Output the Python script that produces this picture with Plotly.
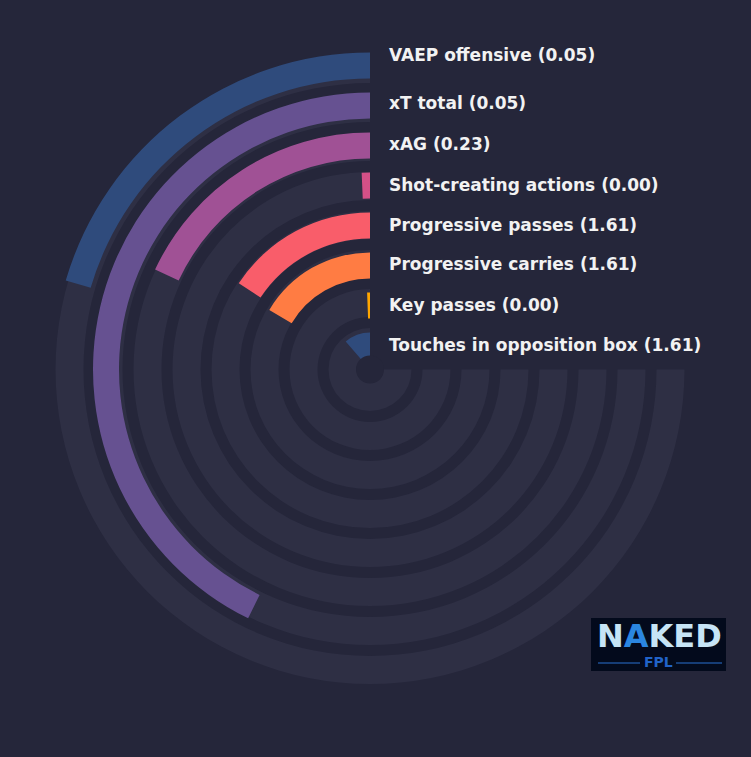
import plotly.graph_objects as go

# ---- data (inner ring to outer ring) ----
metrics = ["Touches in opposition box", "Key passes", "Progressive carries",
           "Progressive passes", "Shot-creating actions", "xAG", "xT total",
           "VAEP offensive"]
values = [1.61, 0.00, 1.61, 1.61, 0.00, 0.23, 0.05, 0.05]
percentiles = [15.2, 0.8, 22.0, 21.0, 0.9, 24.1, 57.0, 27.3]
bar_colors = ["#2f4b7c", "#ffa600", "#ff7c43", "#f95d6a", "#d45087",
              "#a05195", "#665191", "#2f4b7c"]

# ---- style / geometry ----
W, H = 751, 757
CX, CY = 370, 369.5          # centre of rings, pixels from top-left
R = 320                      # radial axis range == pixels
BG = "#25263a"
TRACK = "#2e2f44"
SWEEP = 270.0                # degrees for 100th percentile
FONT = "DejaVu Sans"

n = len(metrics)
idx = list(range(n))
bar_center = [24 + 40 * i for i in idx]
bar_w = 26
track_center = [27.5 + 39 * i for i in idx]
track_w = 28

angles = [p / 100.0 * SWEEP for p in percentiles]

fig = go.Figure()

# background tracks
fig.add_trace(go.Barpolar(
    theta=[SWEEP / 2] * n, width=[SWEEP] * n,
    base=[c - track_w / 2 for c in track_center], r=[track_w] * n,
    marker=dict(color=TRACK, line=dict(width=0)),
    hoverinfo="skip", showlegend=False))

# value bars
fig.add_trace(go.Barpolar(
    theta=[a / 2 for a in angles], width=angles,
    base=[c - bar_w / 2 for c in bar_center], r=[bar_w] * n,
    marker=dict(color=bar_colors, line=dict(width=0)),
    text=metrics, hoverinfo="text", showlegend=False))

# dark centre disc
fig.add_trace(go.Barpolar(
    theta=[180], width=[360], base=[0], r=[14],
    marker=dict(color=BG, line=dict(width=0)),
    hoverinfo="skip", showlegend=False))

fig.update_layout(
    width=W, height=H,
    margin=dict(l=0, r=0, t=0, b=0),
    paper_bgcolor=BG, plot_bgcolor=BG,
    polar=dict(
        domain=dict(x=[(CX - R) / W, (CX + R) / W],
                    y=[(H - CY - R) / H, (H - CY + R) / H]),
        bgcolor="rgba(0,0,0,0)",
        radialaxis=dict(range=[0, R], visible=False, showgrid=False),
        angularaxis=dict(rotation=90, direction="counterclockwise",
                         visible=False, showgrid=False),
    ),
    showlegend=False,
)

# labels
for i in idx:
    y_px = CY - bar_center[i] - 1
    if metrics[i] == "VAEP offensive":
        y_px -= 10
    if metrics[i] == "xT total":
        y_px -= 1
    fig.add_annotation(
        x=386.5 / W, y=(H - y_px) / H, xref="paper", yref="paper",
        xanchor="left", yanchor="middle", showarrow=False,
        text=f"<b>{metrics[i]} ({values[i]:.2f})</b>",
        font=dict(family=FONT, size=17, color="#f2f2f2"))

# logo
fig.add_shape(type="rect", xref="paper", yref="paper",
              x0=591 / W, x1=726 / W, y0=(H - 671) / H, y1=(H - 618) / H,
              fillcolor="#030a1c", line=dict(width=0))
fig.add_annotation(
    x=659 / W, y=(H - 636) / H, xref="paper", yref="paper",
    xanchor="center", yanchor="middle", showarrow=False,
    text="<b>N<span style='color:#2b86e0'>A</span>KED</b>",
    font=dict(family=FONT, size=32, color="#c6e4f6"))
fig.add_annotation(
    x=658 / W, y=(H - 662) / H, xref="paper", yref="paper",
    xanchor="center", yanchor="middle", showarrow=False,
    text="<b>FPL</b>", font=dict(family=FONT, size=14, color="#2163c8"))
for x0, x1 in [(598, 640), (676, 722)]:
    fig.add_shape(type="line", xref="paper", yref="paper",
                  x0=x0 / W, x1=x1 / W, y0=(H - 663) / H, y1=(H - 663) / H,
                  line=dict(color="#2a70d0", width=1))

fig.write_html(
    "out.html",
    config={"displayModeBar": False},
    post_script="document.body.style.margin='0';"
                "document.body.style.padding='0';"
                "document.body.style.overflow='hidden';"
                "document.body.style.background='" + BG + "';")
